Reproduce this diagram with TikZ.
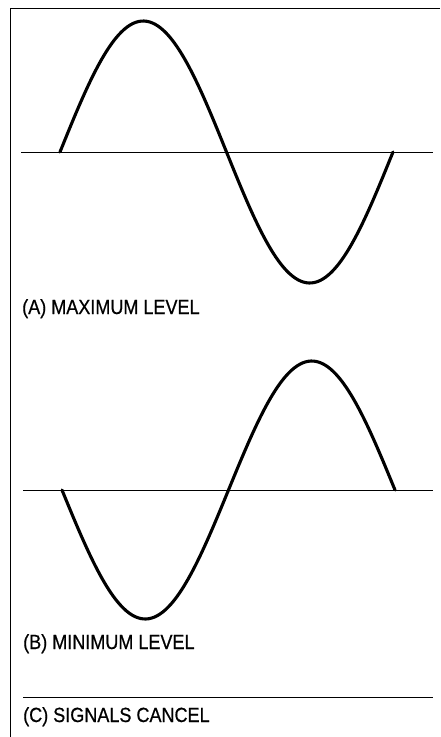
\documentclass[tikz,border=0pt]{standalone}
\usepackage{fontspec}
\setmainfont{Liberation Sans}
\newfontfamily\labfont[FakeStretch=0.88,FakeBold=0.6]{Liberation Sans}
\begin{document}
\begin{tikzpicture}[x=1pt,y=-1pt,
  wave/.style={line width=3.1pt,line cap=round},
  axis/.style={line width=0.9pt},
  frame/.style={line width=1.6pt},
  lab/.style={anchor=base west,inner sep=0pt,font=\labfont\fontsize{20.5}{24}\selectfont}]
\useasboundingbox (0,0) rectangle (440,737);
% frame
\coordinate (tr) at (440,8.5);
\coordinate (tl) at (10.5,8.5);
\coordinate (bl) at (10.5,737);
\draw[frame] (tr) -- (tl) -- (bl);
% (A)
\coordinate (a0) at (21,152);
\coordinate (a1) at (433,152);
\draw[axis] (a0) -- (a1);
\draw[wave] plot[domain=60:393,samples=120,smooth] (\x,{152-131*sin((\x-60)*1.081081)});
\node[lab] (la) at (22,314) {(A) MAXIMUM LEVEL};
% (B)
\coordinate (b0) at (23,490);
\coordinate (b1) at (433,490);
\draw[axis] (b0) -- (b1);
\draw[wave] plot[domain=62:395,samples=120,smooth] (\x,{490+129*sin((\x-62)*1.081081)});
\node[lab] (lb) at (23,649) {(B) MINIMUM LEVEL};
% (C)
\coordinate (c0) at (23,697);
\coordinate (c1) at (433,697);
\draw[axis] (c0) -- (c1);
\node[lab] (lc) at (23,722) {(C) SIGNALS CANCEL};
\end{tikzpicture}
\end{document}
